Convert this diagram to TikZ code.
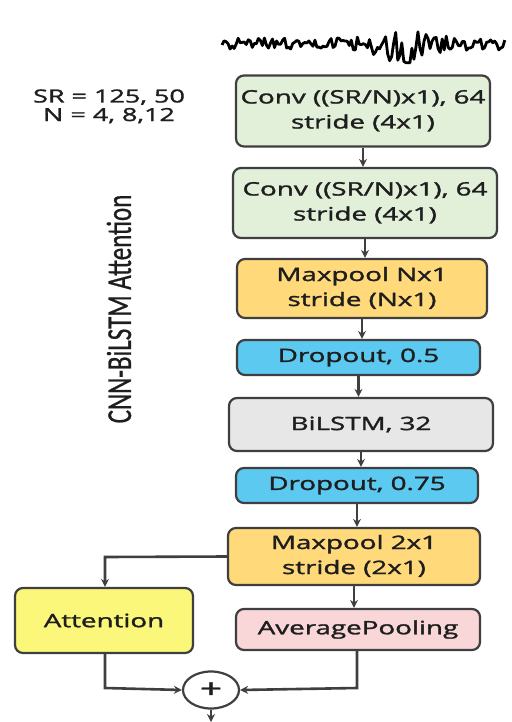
\documentclass[tikz,border=0pt]{standalone}
\usepackage{fontspec}
\setmainfont{Open Sans}
\newfontfamily\boxfont{Open Sans}[FakeBold=1.3]
\newfontfamily\sidefont{Carlito}[FakeBold=0.8]
\usetikzlibrary{shapes.geometric,arrows.meta}
\definecolor{convg}{HTML}{E2EFD9}
\definecolor{poolo}{HTML}{FFD97A}
\definecolor{dropb}{HTML}{5CC9F0}
\definecolor{lstmg}{HTML}{E7E7E7}
\definecolor{attny}{HTML}{FAF77A}
\definecolor{avgp}{HTML}{F9D6D8}
\definecolor{edge}{HTML}{3F3F3F}
\definecolor{txt}{HTML}{1E1E1E}
\newcommand{\sx}[1]{\scalebox{1.5}[1]{#1}}
\newcommand{\twol}[2]{\sx{\begin{tabular}{@{}c@{}}#1\\#2\end{tabular}}}
\tikzset{
  blk/.style={draw=edge, line width=2.2pt, rounded corners=8pt, inner sep=0pt,
    align=center, text=txt, font=\boxfont\fontsize{18.5}{25}\selectfont},
  arr/.style={draw=edge, line width=2.6pt, -{Stealth[length=8pt,width=8pt]}},
}
\begin{document}
\begin{tikzpicture}[x=1pt,y=-1pt]
\useasboundingbox (0,0) rectangle (511,722);
\fill[white] (0,0) rectangle (511,722);
% waveform
\pgfmathsetseed{23}
\draw[line width=2.8pt, line join=round, black]
  (222,45) \foreach \i in {1,...,140} {
    -- ({222+\i*2.02}, {44 + (6+14*exp(-((222+\i*2.02-405)/30)^2))*rand})
  };
% side texts
\node[text=txt, font=\boxfont\fontsize{18}{18.5}\selectfont, align=center] (sr) at (109,108)
  {\sx{\begin{tabular}{@{}c@{}}SR = 125, 50\\N = 4, 8,12\end{tabular}}};
\node[rotate=90, text=txt, font=\sidefont\fontsize{25}{26}\selectfont] (title) at (119,309)
  {\scalebox{1}[1.4]{CNN-BiLSTM Attention}};
% blocks
\node[blk, fill=convg, minimum width=254, minimum height=71] (c1) at (363,111)
  {\twol{Conv ((SR/N)x1), 64}{stride (4x1)}};
\node[blk, fill=convg, minimum width=264, minimum height=70] (c2) at (365,203)
  {\twol{Conv ((SR/N)x1), 64}{stride (4x1)}};
\node[blk, fill=poolo, minimum width=250, minimum height=59] (m1) at (362,288.5)
  {\twol{Maxpool Nx1}{stride (Nx1)}};
\node[blk, fill=dropb, minimum width=243, minimum height=35] (d1) at (358.5,357.5)
  {\sx{Dropout, 0.5}};
\node[blk, fill=lstmg, minimum width=264, minimum height=53] (bl) at (361,424.5)
  {\sx{BiLSTM, 32}};
\node[blk, fill=dropb, minimum width=242, minimum height=35] (d2) at (357,485.5)
  {\sx{Dropout, 0.75}};
\node[blk, fill=poolo, minimum width=252, minimum height=57] (m2) at (354,556.5)
  {\twol{Maxpool 2x1}{stride (2x1)}};
\node[blk, fill=attny, minimum width=178, minimum height=65] (at) at (104,620.5)
  {\sx{Attention}};
\node[blk, fill=avgp, minimum width=244, minimum height=41] (ap) at (358,629.5)
  {\sx{AveragePooling}};
\node[draw=edge, line width=2.2pt, ellipse, fill=white, minimum width=56, minimum height=37,
  inner sep=0pt, font=\boxfont\fontsize{26}{26}\selectfont, text=txt] (pl) at (211,690) {\sx{+}};
\coordinate (end) at (211,722);
\coordinate (k1) at (105,557);
\coordinate (k2) at (105,688);
\coordinate (k3) at (357,688);
% connectors
\draw[arr] (c1.south) -- (c1.south |- c2.north);
\draw[arr] (c2.south) -- (c2.south |- m1.north);
\draw[arr] (m1.south) -- (m1.south |- d1.north);
\draw[arr] (d1.south) -- (d1.south |- bl.north);
\draw[arr] (bl.south) -- (bl.south |- d2.north);
\draw[arr] (d2.south) -- (d2.south |- m2.north);
\draw[arr] (m2.south) -- (m2.south |- ap.north);
\draw[arr] (m2.west) -- (k1) -- (k1 |- at.north);
\draw[arr] (k1 |- at.south) -- (k2) -- (pl.west);
\draw[arr] (k3 |- ap.south) -- (k3) -- (pl.east);
\draw[arr] (pl.south) -- (end);
\end{tikzpicture}
\end{document}
